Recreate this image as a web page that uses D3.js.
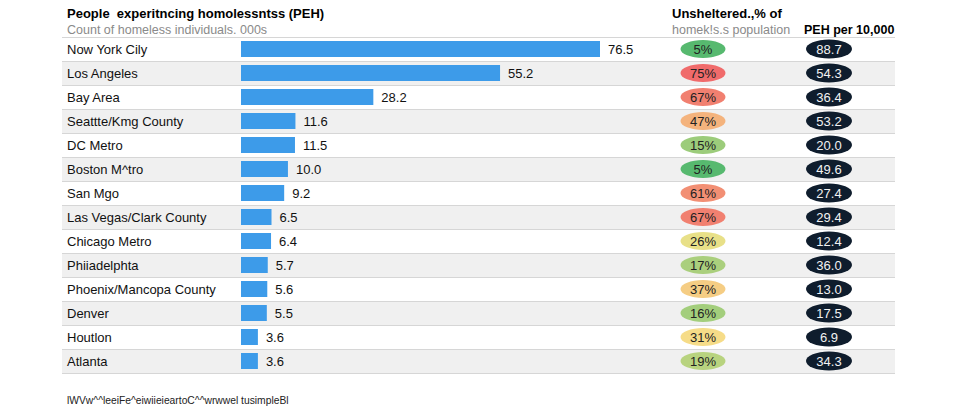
<!DOCTYPE html>
<html>
<head>
<meta charset="utf-8">
<script src="https://cdn.jsdelivr.net/npm/d3@7"></script>
<style>
  body { margin: 0; background: #fff; }
  svg { font-family: "Liberation Sans", Arial, sans-serif; }
</style>
</head>
<body>
<svg id="chart"></svg>
<script>
var cities = ["Now York Cily", "Los Angeles", "Bay Area", "Seattte/Kmg County", "DC Metro",
  "Boston M^tro", "San Mgo", "Las Vegas/Clark County", "Chicago Metro", "Phiiadelphta",
  "Phoenix/Mancopa County", "Denver", "Houtlon", "Atlanta"];
var peh = [76.5, 55.2, 28.2, 11.6, 11.5, 10.0, 9.2, 6.5, 6.4, 5.7, 5.6, 5.5, 3.6, 3.6];
var unsheltered = [5, 75, 67, 47, 15, 5, 61, 67, 26, 17, 37, 16, 31, 19];
var per10k = [88.7, 54.3, 36.4, 53.2, 20.0, 49.6, 27.4, 29.4, 12.4, 36.0, 13.0, 17.5, 6.9, 34.3];

var width = 959, height = 407;
var svg = d3.select('#chart').attr('width', width).attr('height', height);

var top0 = 37, rowH = 24, left = 62, right = 895;

var y = d3.scaleBand().domain(d3.range(cities.length))
  .range([top0, top0 + rowH * cities.length]).padding(0);
var x = d3.scaleLinear().domain([0, 76.5]).range([241, 600]);
var pctColor = d3.scaleLinear().domain([5, 28, 75])
  .range(["#57b96f", "#f6e48a", "#f06b6b"]);

// headers
svg.append("text").attr("x", 67).attr("y", 18)
  .attr("font-size", 13).attr("font-weight", "bold").style("white-space", "pre")
  .text("People  experitncing homolessntss (PEH)");
svg.append("text").attr("x", 67).attr("y", 34)
  .attr("font-size", 12.5).attr("fill", "#8a8a8a")
  .text("Count of homeless individuals. 000s");
svg.append("text").attr("x", 672).attr("y", 18)
  .attr("font-size", 13).attr("font-weight", "bold")
  .text("Unsheltered.,% of");
svg.append("text").attr("x", 672).attr("y", 34)
  .attr("font-size", 12.5).attr("fill", "#8a8a8a")
  .text("homek!s.s population");
svg.append("text").attr("x", 804).attr("y", 34)
  .attr("font-size", 12.5).attr("font-weight", "bold")
  .text("PEH per 10,000");

var rows = svg.selectAll(".row").data(cities).enter().append("g")
  .attr("class", "row")
  .attr("transform", (d, i) => "translate(0," + y(i) + ")");

rows.append("rect")
  .attr("x", left).attr("width", right - left)
  .attr("height", y.bandwidth())
  .attr("fill", (d, i) => i % 2 ? "#f0f0f0" : "#fff");

rows.append("line")
  .attr("x1", left).attr("x2", right).attr("y1", 0.5).attr("y2", 0.5)
  .attr("stroke", "#d6d6d6");

rows.append("text")
  .attr("x", 67).attr("y", 17)
  .attr("font-size", 13).attr("fill", "#111")
  .text(d => d);

rows.append("rect")
  .attr("x", x(0)).attr("y", 4)
  .attr("width", (d, i) => x(peh[i]) - x(0))
  .attr("height", 16)
  .attr("fill", "#3d9be9");

rows.append("text")
  .attr("x", (d, i) => x(peh[i]) + 8).attr("y", 17)
  .attr("font-size", 13).attr("fill", "#111")
  .text((d, i) => peh[i].toFixed(1));

rows.append("ellipse")
  .attr("cx", 703).attr("cy", 12).attr("rx", 22.5).attr("ry", 9)
  .attr("fill", (d, i) => pctColor(unsheltered[i]));
rows.append("text")
  .attr("x", 703).attr("y", 17).attr("text-anchor", "middle")
  .attr("font-size", 13).attr("fill", "#222")
  .text((d, i) => unsheltered[i] + "%");

rows.append("ellipse")
  .attr("cx", 829).attr("cy", 12).attr("rx", 23).attr("ry", 9.5)
  .attr("fill", "#0f1d2d");
rows.append("text")
  .attr("x", 829).attr("y", 17).attr("text-anchor", "middle")
  .attr("font-size", 13).attr("fill", "#f2f2f2")
  .text((d, i) => per10k[i].toFixed(1));

var bottom = top0 + rowH * cities.length;
svg.append("line")
  .attr("x1", left).attr("x2", right).attr("y1", bottom + 0.5).attr("y2", bottom + 0.5)
  .attr("stroke", "#d6d6d6");

svg.append("text").attr("x", 67).attr("y", 404)
  .attr("font-size", 10.3).attr("fill", "#222")
  .text("lWVw^^leeiFe^eiwiieieartoC^^wrwwel tusimpleBl");
</script>
</body>
</html>
